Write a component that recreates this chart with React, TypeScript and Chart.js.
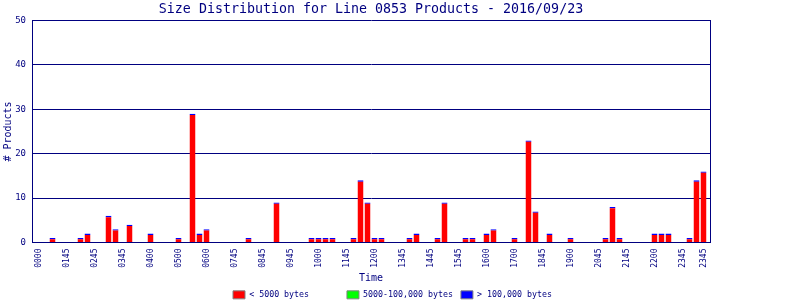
import React, { useEffect, useRef } from 'react';
import { Chart, registerables } from 'chart.js';

Chart.register(...registerables);

const NAVY = '#000080';
const MONO = '"DejaVu Sans Mono", "Liberation Mono", monospace';

const chartTitle = 'Size Distribution for Line 0853 Products - 2016/09/23';
const yAxisTitle = '# Products';
const xAxisTitle = 'Time';

const seriesNames = ['< 5000 bytes', '5000-100,000 bytes', '> 100,000 bytes'];
const seriesColors = ['#ff0000', '#00ff00', '#0000ff'];

// 96 quarter-hour slots, one row per 6 hours
const smallCounts = [
  0, 0, 1, 0, 0, 0, 1, 2, 0, 0, 6, 3, 0, 4, 0, 0, 2, 0, 0, 0, 1, 0, 29, 2,
  3, 0, 0, 0, 0, 0, 1, 0, 0, 0, 9, 0, 0, 0, 0, 1, 1, 1, 1, 0, 0, 1, 14, 9,
  1, 1, 0, 0, 0, 1, 2, 0, 0, 1, 9, 0, 0, 1, 1, 0, 2, 3, 0, 0, 1, 0, 23, 7,
  0, 2, 0, 0, 1, 0, 0, 0, 0, 1, 8, 1, 0, 0, 0, 0, 2, 2, 2, 0, 0, 1, 14, 16,
];
const mediumCounts = [
  0, 0, 0, 0, 0, 0, 0, 0, 0, 0, 0, 0, 0, 0, 0, 0, 0, 0, 0, 0, 0, 0, 0, 0,
  0, 0, 0, 0, 0, 0, 0, 0, 0, 0, 0, 0, 0, 0, 0, 0, 0, 0, 0, 0, 0, 0, 0, 0,
  0, 0, 0, 0, 0, 0, 0, 0, 0, 0, 0, 0, 0, 0, 0, 0, 0, 0, 0, 0, 0, 0, 0, 0,
  0, 0, 0, 0, 0, 0, 0, 0, 0, 0, 0, 0, 0, 0, 0, 0, 0, 0, 0, 0, 0, 0, 0, 0,
];
const largeCounts = [
  0, 0, 0, 0, 0, 0, 0, 0, 0, 0, 0, 0, 0, 0, 0, 0, 0, 0, 0, 0, 0, 0, 0, 0,
  0, 0, 0, 0, 0, 0, 0, 0, 0, 0, 0, 0, 0, 0, 0, 0, 0, 0, 0, 0, 0, 0, 0, 0,
  0, 0, 0, 0, 0, 0, 0, 0, 0, 0, 0, 0, 0, 0, 0, 0, 0, 0, 0, 0, 0, 0, 0, 0,
  0, 0, 0, 0, 0, 0, 0, 0, 0, 0, 0, 0, 0, 0, 0, 0, 0, 0, 0, 0, 0, 0, 0, 0,
];

const tickLabels = [
  '0000', '0145', '0245', '0345', '0400', '0500', '0600', '0745', '0845', '0945',
  '1000', '1145', '1200', '1345', '1445', '1545', '1600', '1700', '1845', '1900',
  '2045', '2145', '2200', '2345', '2345',
];
const tickSlots = [
  0, 4, 8, 12, 16, 20, 24, 28, 32, 36, 40, 44, 48, 52, 56, 60, 64, 68, 72, 76,
  80, 84, 88, 92, 95,
];

const yMax = 50;
const yStep = 10;

export default function App() {
  const ref = useRef<HTMLCanvasElement>(null);

  useEffect(() => {
    const series = [smallCounts, mediumCounts, largeCounts];
    const maxLen = Math.max(...seriesNames.map((s) => s.length));
    const chart = new Chart(ref.current as HTMLCanvasElement, {
      type: 'bar',
      data: {
        datasets: series.map((vals, si) => ({
          label: seriesNames[si],
          data: vals.map((v, i) => ({ x: i, y: v })),
          backgroundColor: seriesColors[si],
          borderColor: '#0000ff',
          borderWidth: si === 0 ? { top: 1.3, left: 0, right: 0, bottom: 0 } : 0,
          borderSkipped: false,
          barPercentage: 6 / 7,
          categoryPercentage: 1,
          inflateAmount: 0,
        })),
      },
      options: {
        responsive: false,
        devicePixelRatio: 1,
        animation: false,
        layout: { padding: { top: 0, left: 0, right: 0, bottom: -9 } },
        plugins: {
          title: {
            display: true,
            text: chartTitle,
            color: NAVY,
            fullSize: false,
            font: { family: MONO, size: 13.3, weight: 'normal' },
            padding: { top: 2, bottom: 2.54 },
          },
          legend: {
            display: true,
            position: 'bottom',
            labels: {
              boxWidth: 12,
              boxHeight: 8,
              padding: 7.9,
              color: NAVY,
              font: { family: MONO, size: 8.3 },
              generateLabels: (c: any) =>
                c.data.datasets.map((ds: any, i: number) => ({
                  text: String(ds.label).padEnd(maxLen, ' '),
                  fillStyle: ds.backgroundColor,
                  strokeStyle: '#808080',
                  lineWidth: 1,
                  hidden: false,
                  datasetIndex: i,
                  fontColor: NAVY,
                })),
            },
          },
          tooltip: { enabled: false },
        },
        scales: {
          x: {
            type: 'linear',
            stacked: true,
            offset: false,
            bounds: 'data',
            min: -0.93,
            max: 95.93,
            grid: { display: true, drawOnChartArea: false, drawTicks: false },
            border: { color: NAVY, width: 1 },
            afterBuildTicks: (s: any) => {
              s.ticks = tickSlots.map((v) => ({ value: v }));
            },
            ticks: {
              autoSkip: false,
              minRotation: 90,
              maxRotation: 90,
              padding: 6,
              color: NAVY,
              font: { family: MONO, size: 8 },
              callback: (_v: any, idx: number) => tickLabels[idx] ?? '',
            },
            title: {
              display: true,
              text: xAxisTitle,
              color: NAVY,
              font: { family: MONO, size: 10 },
              padding: { top: 0, bottom: -2 },
            },
            afterFit: (s: any) => {
              s.height = 40.3;
            },
          },
          y: {
            stacked: true,
            min: 0,
            max: yMax,
            ticks: {
              stepSize: yStep,
              color: NAVY,
              padding: 6,
              font: { family: MONO, size: 9 },
            },
            grid: { color: NAVY, lineWidth: 1, drawTicks: false },
            border: { color: NAVY, width: 1 },
            title: {
              display: true,
              text: yAxisTitle,
              color: NAVY,
              font: { family: MONO, size: 10 },
              padding: { top: 2, bottom: 0 },
            },
            afterFit: (s: any) => {
              s.width = 32;
            },
          },
          y2: {
            position: 'right',
            display: true,
            ticks: { display: false },
            grid: { drawOnChartArea: false, drawTicks: false },
            border: { color: NAVY, width: 1 },
            afterFit: (s: any) => {
              s.width = 90;
            },
          },
        },
      } as any,
    });
    return () => chart.destroy();
  }, []);

  return (
    <div style={{ position: 'absolute', left: 0, top: 0, width: 800, height: 300, background: '#fff' }}>
      <canvas ref={ref} width={800} height={300} style={{ display: 'block' }} />
    </div>
  );
}
